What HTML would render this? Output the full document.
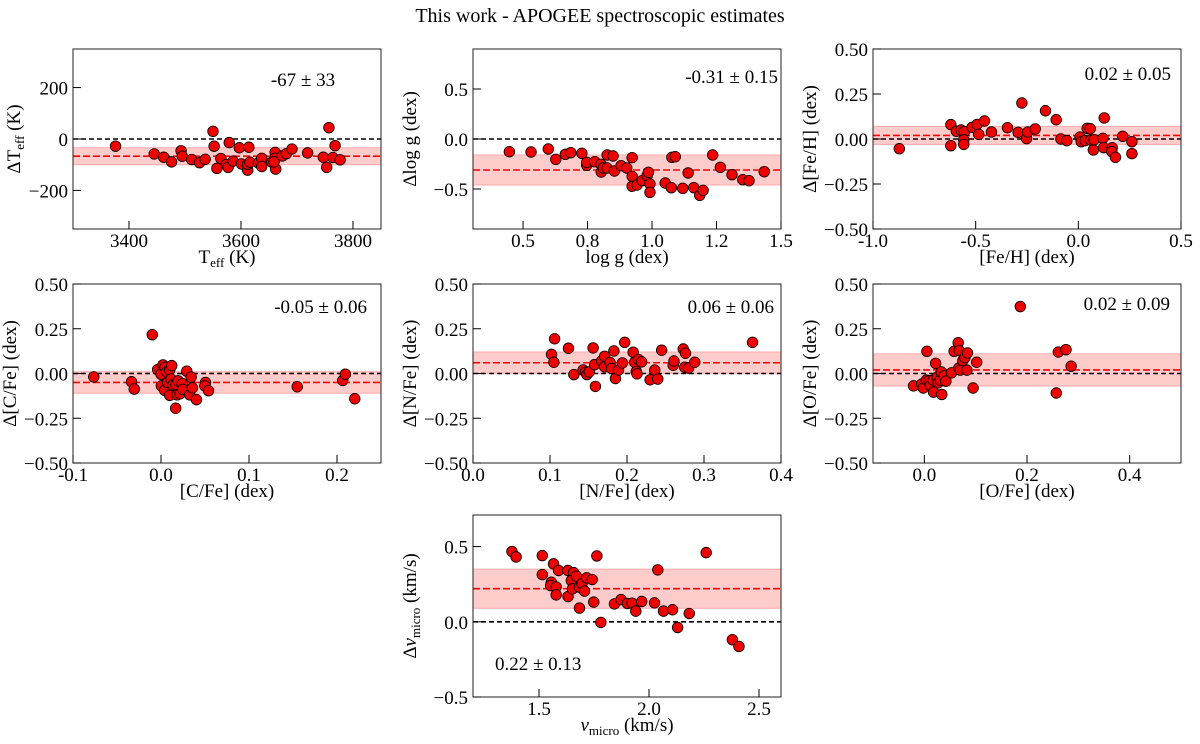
<!DOCTYPE html>
<html><head><meta charset="utf-8"><style>
body{margin:0;background:#fff}
svg{display:block;font-family:"Liberation Serif",serif}
</style></head><body>
<svg id="fig" width="1200" height="744" viewBox="0 0 1200 744">
<text x="600" y="22" text-anchor="middle" font-size="20">This work - APOGEE spectroscopic estimates</text>
</svg>
<script>
const teffX=[3376,3445,3462,3476,3493,3495,3512,3526,3536,3550,3552,3557,3564,3579,3574,3577,3586,3597,3601,3614,3612,3612,3616,3631,3637,3637,3655,3661,3661,3662,3659,3674,3681,3691,3719,3747,3753,3757,3768,3764,3777];
const teffY=[-28,-58,-71,-89,-46,-67,-80,-92,-79,30,-28,-114,-76,-14,-99,-110,-86,-34,-97,-32,-121,-98,-90,-93,-75,-107,-90,-52,-75,-117,-89,-66,-57,-39,-54,-71,-110,44,-26,-72,-81];
const loggX=[0.447,0.531,0.598,0.627,0.664,0.685,0.728,0.747,0.747,0.778,0.802,0.803,0.811,0.826,0.826,0.849,0.854,0.880,0.902,0.923,0.923,0.923,0.942,0.962,0.981,0.986,0.992,0.992,1.051,1.075,1.077,1.090,1.119,1.140,1.162,1.185,1.198,1.235,1.265,1.310,1.352,1.376,1.435];
const loggY=[-0.127,-0.13,-0.10,-0.203,-0.153,-0.137,-0.143,-0.263,-0.233,-0.227,-0.253,-0.33,-0.29,-0.29,-0.16,-0.17,-0.32,-0.267,-0.29,-0.187,-0.373,-0.473,-0.46,-0.417,-0.367,-0.333,-0.45,-0.533,-0.44,-0.487,-0.183,-0.177,-0.493,-0.34,-0.487,-0.563,-0.513,-0.16,-0.283,-0.357,-0.407,-0.417,-0.327];
const fehX=[-0.872,-0.621,-0.621,-0.594,-0.571,-0.555,-0.558,-0.558,-0.517,-0.493,-0.485,-0.457,-0.423,-0.345,-0.293,-0.275,-0.252,-0.246,-0.210,-0.160,-0.108,-0.085,-0.056,0.008,0.014,0.033,0.043,0.058,0.061,0.073,0.077,0.120,0.123,0.126,0.165,0.163,0.181,0.216,0.261,0.261];
const fehY=[-0.054,0.080,-0.037,0.043,0.050,0.041,-0.004,-0.030,0.065,0.081,0.026,0.100,0.039,0.063,0.037,0.200,0.002,0.039,0.056,0.157,0.107,0,-0.009,0.011,-0.015,-0.009,0.059,0.057,-0.006,-0.061,-0.004,0.004,-0.048,0.117,-0.048,-0.070,-0.102,0.015,-0.015,-0.081];
const cfeX=[-0.0764,-0.0335,-0.0304,-0.0099,-0.0038,0.0,0.0004,0.0023,0.0046,0.0042,0.0065,0.0076,0.0099,0.0122,0.0099,0.0114,0.0137,0.0167,0.0171,0.0183,0.0194,0.0217,0.0243,0.0247,0.0293,0.0327,0.0342,0.0357,0.0403,0.0506,0.0498,0.0540,0.1548,0.2065,0.2095,0.2202];
const cfeY=[-0.019,-0.046,-0.087,0.217,0.022,-0.004,-0.069,0.048,0.035,-0.094,0.009,-0.050,0.019,0.044,-0.122,-0.031,-0.065,-0.194,-0.063,-0.119,-0.041,-0.113,-0.057,-0.089,0.013,-0.119,-0.020,-0.080,-0.146,-0.050,-0.069,-0.096,-0.074,-0.039,-0.004,-0.141];
const nfeX=[0.102,0.106,0.105,0.124,0.131,0.143,0.146,0.148,0.151,0.156,0.159,0.158,0.167,0.171,0.171,0.178,0.180,0.183,0.185,0.189,0.194,0.197,0.208,0.210,0.212,0.213,0.215,0.219,0.230,0.236,0.240,0.245,0.260,0.261,0.273,0.276,0.275,0.280,0.288,0.363];
const nfeY=[0.107,0.194,0.063,0.141,-0.006,0.020,0.007,-0.006,0.009,0.143,-0.072,0.050,0.070,0.096,0.037,0.061,0.028,0.126,-0.028,0.019,0.059,0.174,0.119,0.063,0.011,-0.002,0.078,0.065,-0.035,0.019,-0.031,0.130,0.046,0.070,0.137,0.113,0.035,0.030,0.063,0.174];
const ofeX=[-0.021,-0.005,-0.002,0.005,0.004,0.009,0.012,0.017,0.018,0.022,0.025,0.027,0.031,0.033,0.034,0.039,0.042,0.053,0.058,0.066,0.068,0.067,0.070,0.075,0.079,0.083,0.084,0.095,0.102,0.187,0.257,0.261,0.276,0.286];
const ofeY=[-0.069,-0.059,-0.081,0.124,-0.037,-0.041,-0.067,-0.037,-0.104,0.057,-0.020,-0.052,-0.037,0.009,-0.117,-0.013,-0.043,0.004,0.124,0.172,0.128,0.030,0.019,0.072,0.089,0.019,0.115,-0.081,0.063,0.374,-0.109,0.120,0.133,0.041];
const vmX=[1.377,1.396,1.515,1.515,1.566,1.556,1.553,1.578,1.578,1.589,1.631,1.632,1.657,1.647,1.670,1.652,1.684,1.684,1.696,1.707,1.717,1.742,1.749,1.763,1.781,1.843,1.873,1.902,1.923,1.940,1.967,2.025,2.040,2.066,2.107,2.130,2.183,2.260,2.379,2.409];
const vmY=[0.467,0.431,0.440,0.314,0.385,0.263,0.241,0.232,0.179,0.341,0.341,0.168,0.327,0.274,0.303,0.219,0.230,0.091,0.254,0.204,0.292,0.281,0.131,0.438,-0.004,0.119,0.148,0.122,0.124,0.071,0.135,0.126,0.345,0.071,0.080,-0.038,0.055,0.460,-0.119,-0.164];
const means=[-67,-0.31,0.02,-0.05,0.06,0.02,0.22];
const sigmas=[33,0.15,0.05,0.06,0.06,0.09,0.13];
const statLabels=["-67 \u00b1 33","-0.31 \u00b1 0.15","0.02 \u00b1 0.05","-0.05 \u00b1 0.06","0.06 \u00b1 0.06","0.02 \u00b1 0.09","0.22 \u00b1 0.13"];

const NS="http://www.w3.org/2000/svg";
const svg=document.getElementById('fig');
function mk(tag,attrs,parent){const e=document.createElementNS(NS,tag);for(const k in attrs)e.setAttribute(k,attrs[k]);(parent||svg).appendChild(e);return e;}

const panels=[
 {id:'teff',L:73,R:381,T:49,B:229,x0:3300,x1:3850,y0:-350,y1:350,xs:teffX,ys:teffY,
  xt:[3400,3600,3800],xl:['3400','3600','3800'],yt:[200,0,-200],yl:['200','0','\u2212200'],
  ylab:'\u0394T<tspan font-size="13" dy="4">eff</tspan><tspan dy="-4"> (K)</tspan>',xlab:'T<tspan font-size="13" dy="4">eff</tspan><tspan dy="-4"> (K)</tspan>',ylx:20,st:{x:303,y:86,a:'middle'}},
 {id:'logg',L:473,R:781,T:49,B:229,x0:0.306,x1:1.5,y0:-0.9,y1:0.9,xs:loggX,ys:loggY,
  xt:[0.5,0.75,1.0,1.25,1.5],xl:['0.5','0.8','1.0','1.2','1.5'],yt:[0.5,0,-0.5],yl:['0.5','0.0','\u22120.5'],
  ylab:'\u0394log g (dex)',xlab:'log g (dex)',ylx:416,st:{x:778,y:83,a:'end'}},
 {id:'feh',L:873,R:1181,T:49,B:229,x0:-1,x1:0.5,y0:-0.5,y1:0.5,xs:fehX,ys:fehY,
  xt:[-1,-0.5,0,0.5],xl:['-1.0','-0.5','0.0','0.5'],yt:[0.5,0.25,0,-0.25,-0.5],yl:['0.50','0.25','0.00','\u22120.25','\u22120.50'],
  ylab:'\u0394[Fe/H] (dex)',xlab:'[Fe/H] (dex)',ylx:816,st:{x:1171,y:80,a:'end'}},
 {id:'cfe',L:73,R:381,T:284,B:463,x0:-0.1,x1:0.25,y0:-0.5,y1:0.5,xs:cfeX,ys:cfeY,
  xt:[-0.1,0,0.1,0.2],xl:['-0.1','0.0','0.1','0.2'],yt:[0.5,0.25,0,-0.25,-0.5],yl:['0.50','0.25','0.00','\u22120.25','\u22120.50'],
  ylab:'\u0394[C/Fe] (dex)',xlab:'[C/Fe] (dex)',ylx:16,st:{x:367,y:313,a:'end'}},
 {id:'nfe',L:473,R:781,T:284,B:463,x0:0,x1:0.4,y0:-0.5,y1:0.5,xs:nfeX,ys:nfeY,
  xt:[0,0.1,0.2,0.3,0.4],xl:['0.0','0.1','0.2','0.3','0.4'],yt:[0.5,0.25,0,-0.25,-0.5],yl:['0.50','0.25','0.00','\u22120.25','\u22120.50'],
  ylab:'\u0394[N/Fe] (dex)',xlab:'[N/Fe] (dex)',ylx:416,st:{x:774,y:313,a:'end'}},
 {id:'ofe',L:873,R:1181,T:284,B:463,x0:-0.1,x1:0.5,y0:-0.5,y1:0.5,xs:ofeX,ys:ofeY,
  xt:[0,0.2,0.4],xl:['0.0','0.2','0.4'],yt:[0.5,0.25,0,-0.25,-0.5],yl:['0.50','0.25','0.00','\u22120.25','\u22120.50'],
  ylab:'\u0394[O/Fe] (dex)',xlab:'[O/Fe] (dex)',ylx:816,st:{x:1170,y:310,a:'end'}},
 {id:'vmicro',L:473,R:781,T:515,B:697,x0:1.2,x1:2.6,y0:-0.5,y1:0.71,xs:vmX,ys:vmY,
  xt:[1.5,2.0,2.5],xl:['1.5','2.0','2.5'],yt:[0.5,0,-0.5],yl:['0.5','0.0','\u22120.5'],
  ylab:'\u0394<tspan font-style="italic">v</tspan><tspan font-size="13" dy="4">micro</tspan><tspan dy="-4"> (km/s)</tspan>',
  xlab:'<tspan font-style="italic">v</tspan><tspan font-size="13" dy="4">micro</tspan><tspan dy="-4"> (km/s)</tspan>',ylx:416,st:{x:495,y:670,a:'start'}}
];

panels.forEach((p,i)=>{
  const sx=v=>p.L+(v-p.x0)/(p.x1-p.x0)*(p.R-p.L);
  const sy=v=>p.B-(v-p.y0)/(p.y1-p.y0)*(p.B-p.T);
  const g=mk('g',{});
  
  
  const clipId='c'+i;
  const cp=mk('clipPath',{id:clipId},g);mk('rect',{x:p.L,y:p.T,width:p.R-p.L,height:p.B-p.T},cp);
  const band=mk('rect',{x:p.L,y:sy(means[i]+sigmas[i]),width:p.R-p.L,height:sy(means[i]-sigmas[i])-sy(means[i]+sigmas[i]),fill:'#ffcccc',stroke:'#ffaaaa','stroke-width':1},g);
  
  
  const zl=mk('line',{x1:p.L,x2:p.R,y1:sy(0),y2:sy(0),stroke:'#000','stroke-width':1.6,'stroke-dasharray':'5,3'},g);
  
  
  const ml=mk('line',{x1:p.L,x2:p.R,y1:sy(means[i]),y2:sy(means[i]),stroke:'#f00','stroke-width':1.6,'stroke-dasharray':'7,3'},g);
  
  
  const pts=mk('g',{'clip-path':'url(#'+clipId+')'},g);
  p.xs.forEach((xv,j)=>{
    const c=mk('circle',{cx:sx(xv),cy:sy(p.ys[j]),r:5.3,fill:'#ee0000',stroke:'#000','stroke-width':0.8},pts);
    
    
  });
  const fr=mk('rect',{x:p.L,y:p.T,width:p.R-p.L,height:p.B-p.T,fill:'none',stroke:'#222','stroke-width':1},g);
  
  
  p.xt.forEach((t,j)=>{
    const x=sx(t);
    mk('line',{x1:x,x2:x,y1:p.B,y2:p.B-8,stroke:'#000','stroke-width':1},g);
    const tl=mk('text',{x:x,y:p.B+18,'text-anchor':'middle','font-size':19},g);tl.textContent=p.xl[j];
    
    
  });
  p.yt.forEach((t,j)=>{
    const y=sy(t);
    mk('line',{x1:p.L,x2:p.L+8,y1:y,y2:y,stroke:'#000','stroke-width':1},g);
    const tl=mk('text',{x:p.L-5,y:y+7,'text-anchor':'end','font-size':19},g);tl.textContent=p.yl[j];
    
    
  });
  const xl=mk('text',{x:(p.L+p.R)/2,y:p.B+34,'text-anchor':'middle','font-size':19},g);xl.innerHTML=p.xlab;
  
  
  const cy=(p.T+p.B)/2;
  const yl=mk('text',{x:p.ylx,y:cy,'text-anchor':'middle','font-size':19,transform:'rotate(-90 '+p.ylx+' '+cy+')'},g);yl.innerHTML=p.ylab;
  
  
  const st=mk('text',{x:p.st.x,y:p.st.y,'text-anchor':p.st.a,'font-size':19},g);st.textContent=statLabels[i];
  
  
});
</script>
</body></html>
